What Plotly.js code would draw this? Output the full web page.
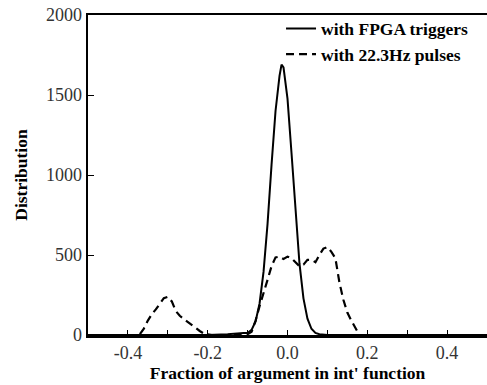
<!DOCTYPE html>
<html>
<head>
<meta charset="utf-8">
<script src="https://cdn.plot.ly/plotly-3.0.1.min.js"></script>
<style>html,body{margin:0;padding:0;background:#fff;}#chart{width:487px;height:385px;}</style>
</head>
<body>
<div id="chart"></div>
<script>
// FPGA triggers (solid)
const fpgaX = [-0.5, -0.2, -0.15, -0.13, -0.11, -0.10, -0.09, -0.08, -0.07, -0.06, -0.05, -0.04, -0.03, -0.02, -0.015, -0.01, 0.00, 0.01, 0.02, 0.03, 0.04, 0.05, 0.06, 0.07, 0.08, 0.10, 0.5];
const fpgaY = [0, 0, 5, 10, 12, 12, 32, 85, 197, 396, 695, 1063, 1400, 1620, 1690, 1672, 1477, 1139, 765, 447, 229, 102, 39, 13, 5, 0, 0];
// 22.3 Hz pulses (dashed)
const pulseX = [-0.5, -0.38, -0.37, -0.36, -0.35, -0.34, -0.33, -0.32, -0.31, -0.30, -0.29, -0.28, -0.27, -0.26, -0.25, -0.24, -0.23, -0.22, -0.21, -0.20, -0.19, -0.12, -0.10, -0.09, -0.08, -0.07, -0.06, -0.05, -0.04, -0.03, -0.02, -0.01, 0.00, 0.01, 0.02, 0.03, 0.04, 0.05, 0.06, 0.07, 0.08, 0.09, 0.10, 0.11, 0.12, 0.13, 0.14, 0.15, 0.16, 0.17, 0.18, 0.5];
const pulseY = [0, 0, 5, 40, 90, 130, 160, 195, 230, 238, 210, 150, 120, 100, 80, 60, 40, 25, 10, 3, 0, 0, 5, 20, 90, 180, 270, 345, 430, 485, 490, 475, 490, 480, 455, 430, 440, 470, 470, 455, 500, 540, 550, 520, 480, 330, 220, 140, 90, 45, 0, 0];
const seriesNames = ['with FPGA triggers', 'with 22.3Hz pulses'];
const xTickVals = [-0.4, -0.3, -0.2, -0.1, 0.0, 0.1, 0.2, 0.3, 0.4];
const xTickText = ['-0.4', '', '-0.2', '', '0.0', '', '0.2', '', '0.4'];
const yTickVals = [0, 500, 1000, 1500, 2000];
const yTickText = ['0', '500', '1000', '1500', '2000'];

const traces = [
  {x: fpgaX, y: fpgaY, name: seriesNames[0], mode: 'lines', line: {color: '#000', width: 2}},
  {x: pulseX, y: pulseY, name: seriesNames[1], mode: 'lines', line: {color: '#000', width: 2.2, dash: '8px,5px'}}
];
const serif = 'Liberation Serif';
const tickFont = {family: serif, size: 18, color: '#333', weight: 'normal'};
const layout = {
  width: 487, height: 385,
  margin: {l: 88, r: 0, t: 15, b: 50},
  font: {family: serif, size: 17, color: '#333'},
  paper_bgcolor: '#fff', plot_bgcolor: '#fff',
  showlegend: true,
  legend: {x: 0.965, xanchor: 'right', y: 1.014, yanchor: 'top', bgcolor: 'rgba(0,0,0,0)',
           font: {family: serif, size: 17.5, color: '#000', weight: 'bold'}, tracegroupgap: 0},
  xaxis: {range: [-0.5, 0.5], tickmode: 'array', tickvals: xTickVals, ticktext: xTickText, ticks: 'inside', ticklen: 5,
          tickcolor: '#000', showline: true, linecolor: '#000', linewidth: 2.5, mirror: true,
          showgrid: false, zeroline: false, tickfont: tickFont,
          title: {text: "Fraction of argument in int' function", standoff: 4,
                  font: {family: serif, size: 17.5, color: '#000', weight: 'bold'}}},
  yaxis: {range: [0, 2000], tickmode: 'array', tickvals: yTickVals, ticktext: yTickText, ticks: 'inside', ticklen: 6,
          tickcolor: '#000', showline: true, linecolor: '#000', linewidth: 2.5, mirror: false,
          showgrid: false, zeroline: false, tickfont: tickFont,
          title: {text: 'Distribution', standoff: 14,
                  font: {family: serif, size: 17.5, color: '#000', weight: 'bold'}}}
};
Plotly.newPlot('chart', traces, layout, {displayModeBar: false, staticPlot: true});
</script>
</body>
</html>
